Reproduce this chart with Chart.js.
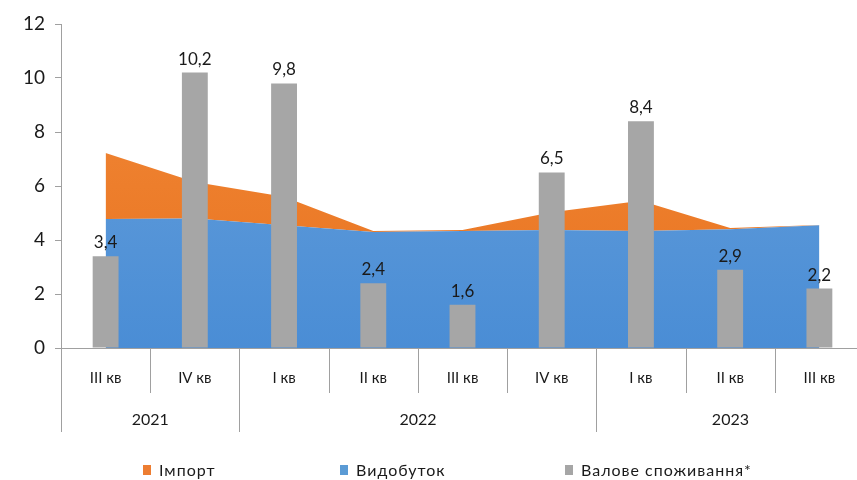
<!DOCTYPE html>
<html>
<head>
<meta charset="utf-8">
<script src="https://cdn.jsdelivr.net/npm/chart.js@4.4.1/dist/chart.umd.min.js"></script>
<style>
body{margin:0;overflow:hidden;background:#fff;font-family:Lato,"Noto Sans",sans-serif}
#wrap{position:relative;width:857px;height:480px;overflow:hidden}
#legend{position:absolute;left:143px;top:460px;display:flex;font-size:16px;letter-spacing:1px;color:#1a1a1a}
.item{display:flex;align-items:center}
.box{width:8px;height:10px;margin-right:8px}
</style>
</head>
<body>
<div id="wrap">
<canvas id="chart" width="864" height="480"></canvas>
<div id="legend"></div>
</div>
<script>
// дані -----------------------------
let quarters = ['III кв', 'IV кв', 'I кв', 'II кв', 'III кв', 'IV кв', 'I кв', 'II кв', 'III кв'];
let years = ['2021', '2021', '2022', '2022', '2022', '2022', '2023', '2023', '2023'];
let production = [4.78, 4.8, 4.55, 4.3, 4.33, 4.37, 4.33, 4.4, 4.55];
let imports = [2.44, 1.35, 1.05, 0.03, 0.04, 0.66, 1.12, 0.04, 0.01];
let consumption = [3.4, 10.2, 9.8, 2.4, 1.6, 6.5, 8.4, 2.9, 2.2];
let yTicks = [0, 2, 4, 6, 8, 10, 12];

const axisGray = '#a0a0a0';
const textColor = '#1a1a1a';

// вертикальні градієнти для площ
function grad(top, bottom) {
	return function(c) {
		const area = c.chart.chartArea;
		if (!area) return top;
		const g = c.chart.ctx.createLinearGradient(0, area.top, 0, area.bottom);
		g.addColorStop(0, top);
		g.addColorStop(1, bottom);
		return g;
	};
}

// підписи над стовпчиками
const barLabels = {
	id: 'barLabels',
	afterDatasetsDraw(chart) {
		const ctx = chart.ctx;
		const meta = chart.getDatasetMeta(2);
		ctx.save();
		ctx.font = '17px Lato, "Noto Sans", sans-serif';
		ctx.fillStyle = textColor;
		ctx.textAlign = 'center';
		ctx.textBaseline = 'bottom';
		meta.data.forEach((bar, i) => {
			ctx.fillText(String(consumption[i]).replace('.', ','), bar.x, bar.y - 5);
		});
		ctx.restore();
	}
};

// роки та роздільники під віссю X
const groupAxis = {
	id: 'groupAxis',
	afterDraw(chart) {
		const ctx = chart.ctx;
		const x = chart.scales.x;
		const top = Math.round(x.top);
		const half = (x.getPixelForValue(1) - x.getPixelForValue(0)) / 2;
		ctx.save();
		ctx.strokeStyle = axisGray;
		ctx.lineWidth = 1;
		ctx.font = '16px Lato, "Noto Sans", sans-serif';
		ctx.fillStyle = textColor;
		ctx.textAlign = 'center';
		ctx.textBaseline = 'middle';
		let start = 0;
		for (let i = 0; i <= quarters.length; i++) {
			const edge = Math.round(x.getPixelForValue(i) - half) + 0.5;
			const isYear = i === 0 || i === quarters.length || years[i] !== years[i - 1];
			ctx.beginPath();
			ctx.moveTo(edge, top);
			ctx.lineTo(edge, top + (isYear ? 84 : 45));
			ctx.stroke();
			if (isYear && i > 0) {
				const left = x.getPixelForValue(start) - half;
				ctx.fillText(years[start], (left + edge) / 2, top + 72);
				start = i;
			}
		}
		ctx.restore();
	}
};

let chart = new Chart(document.getElementById('chart'), {
	type: 'bar',
	data: {
		labels: quarters,
		datasets: [{
			type: 'line',
			label: 'Видобуток',
			data: production,
			stack: 'area',
			order: 1,
			fill: 'origin',
			backgroundColor: grad('#68a1dc', '#4a8dd5'),
			legendColor: '#5b9bd5',
			borderWidth: 0,
			pointRadius: 0,
			tension: 0
		}, {
			type: 'line',
			label: 'Імпорт',
			data: imports,
			stack: 'area',
			order: 1,
			fill: '-1',
			backgroundColor: grad('#f28a3a', '#e8721e'),
			legendColor: '#ed7d31',
			borderWidth: 0,
			pointRadius: 0,
			tension: 0
		}, {
			label: 'Валове споживання*',
			data: consumption,
			stack: 'bars',
			order: 0,
			backgroundColor: '#a6a6a6',
			legendColor: '#a6a6a6',
			barPercentage: 0.29,
			categoryPercentage: 1
		}]
	},
	options: {
		responsive: false,
		animation: false,
		layout: { padding: { top: 24, right: 0, left: 0, bottom: 0 } },
		plugins: {
			legend: { display: false },
			tooltip: { enabled: false }
		},
		scales: {
			x: {
				stacked: true,
				grid: { display: false, drawTicks: false },
				border: { display: true, color: axisGray },
				ticks: {
					color: textColor,
					padding: 21,
					font: { size: 15, family: 'Lato, "Noto Sans", sans-serif' },
					maxRotation: 0
				},
				afterFit(s) { s.height = 132; }
			},
			y: {
				stacked: true,
				min: 0,
				max: 12,
				afterBuildTicks(s) { s.ticks = yTicks.map(v => ({ value: v })); },
				grid: { drawOnChartArea: false, tickLength: 6, color: axisGray },
				border: { display: true, color: axisGray },
				ticks: {
					color: textColor,
					padding: 10,
					font: { size: 19, family: 'Lato, "Noto Sans", sans-serif' }
				},
				afterFit(s) { s.width = 61; }
			}
		}
	},
	plugins: [barLabels, groupAxis]
});

// легенда (порядок як на оригіналі)
let legendOrder = [1, 0, 2];
let itemWidths = ['197px', '225px', 'auto'];
let legend = document.getElementById('legend');
legendOrder.forEach((idx, k) => {
	const ds = chart.data.datasets[idx];
	const item = document.createElement('div');
	item.className = 'item';
	item.style.width = itemWidths[k];
	const box = document.createElement('span');
	box.className = 'box';
	box.style.background = ds.legendColor;
	const txt = document.createElement('span');
	txt.textContent = ds.label;
	item.appendChild(box);
	item.appendChild(txt);
	legend.appendChild(item);
});
</script>
</body>
</html>
